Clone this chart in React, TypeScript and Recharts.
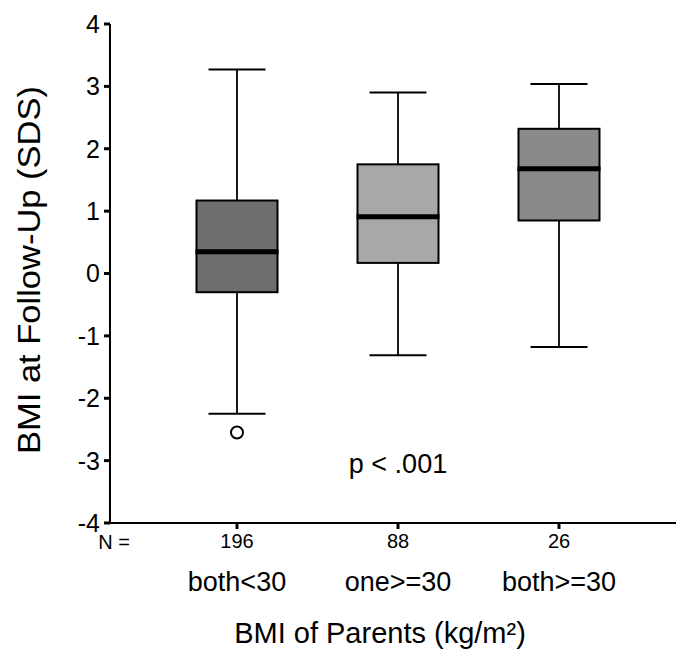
import React from 'react';
import { ComposedChart, Bar, XAxis, YAxis, ReferenceDot } from 'recharts';

const categories = ['both<30', 'one>=30', 'both>=30'];
const counts = ['196', '88', '26'];
const whiskerLow = [-2.25, -1.31, -1.18];
const quartile1 = [-0.3, 0.17, 0.85];
const medians = [0.35, 0.91, 1.68];
const quartile3 = [1.17, 1.75, 2.32];
const whiskerHigh = [3.27, 2.9, 3.04];
const outliers = [[-2.55], [], []];
const yTicks = [-4, -3, -2, -1, 0, 1, 2, 3, 4];
const boxFills = ['#6e6e6e', '#a8a8a8', '#8a8a8a'];

const data = categories.map((c, i) => ({
  cat: c,
  n: counts[i],
  range: [whiskerLow[i], whiskerHigh[i]],
  q1: quartile1[i],
  med: medians[i],
  q3: quartile3[i],
  out: outliers[i],
  fill: boxFills[i],
}));

const FONT = 'Liberation Sans, Arial, sans-serif';

const BoxShape = (props: any) => {
  const { x, y, width, height, payload } = props;
  const [lo, hi] = payload.range;
  const py = (v: number) => y + (height * (hi - v)) / (hi - lo);
  const cx = x + width / 2;
  const capHalf = 28.5;
  const yq1 = py(payload.q1);
  const yq3 = py(payload.q3);
  const ymed = py(payload.med);
  return (
    <g>
      <line x1={cx} x2={cx} y1={py(hi)} y2={yq3} stroke="#000" strokeWidth={1.8} />
      <line x1={cx} x2={cx} y1={yq1} y2={py(lo)} stroke="#000" strokeWidth={1.8} />
      <line x1={cx - capHalf} x2={cx + capHalf} y1={py(hi)} y2={py(hi)} stroke="#000" strokeWidth={2} />
      <line x1={cx - capHalf} x2={cx + capHalf} y1={py(lo)} y2={py(lo)} stroke="#000" strokeWidth={2} />
      <rect x={x} y={yq3} width={width} height={yq1 - yq3} fill={payload.fill} stroke="#000" strokeWidth={2} />
      <line x1={x - 1} x2={x + width + 1} y1={ymed} y2={ymed} stroke="#000" strokeWidth={5} />
      {payload.out.map((o: number, k: number) => (
        <circle key={k} cx={cx} cy={py(o)} r={6} fill="#fff" stroke="#000" strokeWidth={2} />
      ))}
    </g>
  );
};

const XTick = (props: any) => {
  const { x, y, payload, index } = props;
  return (
    <g>
      {index === 0 && (
        <text x={114} y={y + 18} textAnchor="middle" fontSize={20} fontFamily={FONT} fill="#000">
          N =
        </text>
      )}
      <text x={x} y={y + 17} textAnchor="middle" fontSize={20} fontFamily={FONT} fill="#000">
        {payload.value}
      </text>
      <text x={x} y={y + 60} textAnchor="middle" fontSize={27} fontFamily={FONT} fill="#000">
        {categories[index]}
      </text>
    </g>
  );
};

const YLabel = () => (
  <text
    x={40}
    y={270}
    transform="rotate(-90, 40, 270)"
    textAnchor="middle"
    fontSize={31}
    textLength={368}
    lengthAdjust="spacingAndGlyphs"
    fontFamily={FONT}
    fill="#000"
  >
    BMI at Follow-Up (SDS)
  </text>
);

const XLabel = () => (
  <text x={380} y={643} textAnchor="middle" fontSize={29} fontFamily={FONT} fill="#000">
    BMI of Parents (kg/m²)
  </text>
);

export default function App() {
  return (
    <div style={{ position: 'absolute', left: 0, top: 0, background: '#fff' }}>
      <ComposedChart
        width={678}
        height={653}
        data={data}
        margin={{ top: 24, right: 2, bottom: 100, left: 0 }}
      >
        <XAxis
          dataKey="n"
          type="category"
          height={30}
          padding={{ left: 46.5, right: 36.5 }}
          axisLine={{ stroke: '#000', strokeWidth: 2 }}
          tickLine={{ stroke: '#000', strokeWidth: 3 }}
          tickSize={6}
          tick={<XTick />}
          interval={0}
          label={<XLabel />}
        />
        <YAxis
          type="number"
          domain={[-4, 4]}
          ticks={yTicks}
          width={110}
          axisLine={{ stroke: '#000', strokeWidth: 2 }}
          tickLine={{ stroke: '#000', strokeWidth: 3 }}
          tickSize={6}
          tickMargin={4}
          tick={{ fontSize: 25, fontFamily: FONT, fill: '#000' }}
          label={<YLabel />}
        />
        <Bar dataKey="range" barSize={81} shape={<BoxShape />} isAnimationActive={false} />
        <ReferenceDot
          x="88"
          y={-3.04}
          r={0}
          fill="none"
          stroke="none"
          label={{ value: 'p < .001', position: 'center', fontSize: 27, fontFamily: FONT, fill: '#000' }}
        />
      </ComposedChart>
    </div>
  );
}
